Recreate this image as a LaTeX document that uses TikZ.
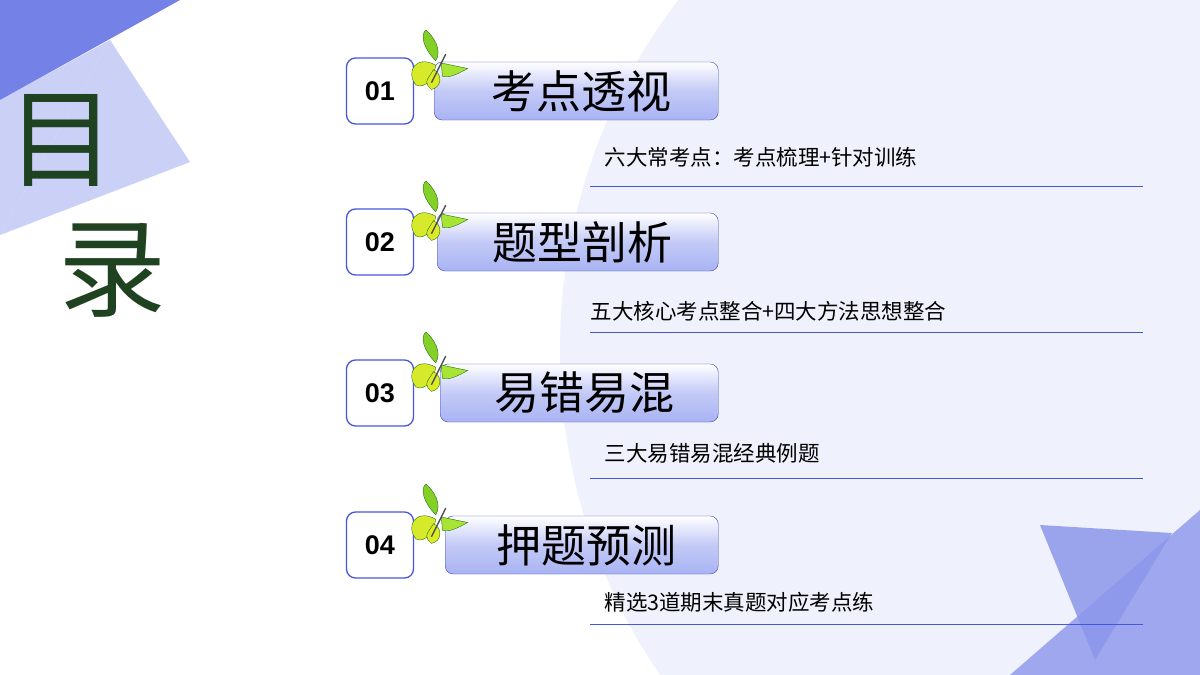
\documentclass[tikz,border=0pt]{standalone}
\usepackage{fontspec}
\setmainfont{Liberation Sans}
\newfontfamily\cjk{Noto Sans CJK SC}
\usetikzlibrary{positioning}
\definecolor{bgpale}{HTML}{EFF2FC}
\definecolor{lineblue}{HTML}{4657DE}
\definecolor{barblue}{HTML}{A9B3F3}
\definecolor{darkgreen}{HTML}{1F4220}
\definecolor{wing}{HTML}{C4DF3C}
\tikzset{
  numbox/.style={draw=lineblue, line width=1.3pt, fill=white, rounded corners=9pt, minimum width=67pt, minimum height=66pt, font=\bfseries\fontsize{27}{27}\selectfont},
  titlebar/.style={draw=lineblue!80!black, top color=white, bottom color=barblue, middle color=barblue!70, rounded corners=8pt, minimum height=58pt},
  titletext/.style={font=\cjk\fontsize{45}{45}\selectfont},
  subtext/.style={anchor=west, font=\cjk\fontsize{21.5}{21.5}\selectfont},
  wingpart/.style={draw=green!35!black, line width=0.3pt},
  butterfly/.pic={
    \fill[wingpart, fill=wing!75!green!90!black] (-2,-2) .. controls (-14,-14) and (-16,-26) .. (-11,-30) .. controls (-4,-24) and (4,-12) .. cycle;
    \fill[wingpart, fill=wing!70!yellow] (-2,2) .. controls (-20,-8) and (-30,8) .. (-20,20) .. controls (-12,24) and (-4,14) .. cycle;
    \fill[wingpart, fill=wing!85!green] (3,0) -- (27,5) .. controls (18,10) and (10,14) .. (4,12) -- cycle;
    \fill[wingpart, fill=wing!60!yellow] (-4,6) .. controls (4,10) and (4,22) .. (-6,24) .. controls (-12,18) .. cycle;
    \draw[line width=1.3pt, black!70] (-6,18) -- (7,-8);
  }
}
\begin{document}
\begin{tikzpicture}[x=1pt,y=-1pt]
\useasboundingbox (0,0) rectangle (1200,675);
% background
\fill[white] (0,0) rectangle (1200,675);
\begin{scope}
  \clip (0,0) rectangle (1200,675);
  \fill[bgpale] (1100,350) ellipse (540 and 560);
  \fill[lineblue!28] (0,235) -- (110,40) -- (190,162) -- cycle;
  \fill[lineblue!28] (0,100) -- (110,40) -- (0,235) -- cycle;
  \fill[lineblue!75] (0,0) -- (180,0) -- (0,100) -- cycle;
  \fill[lineblue!52] (1010,675) -- (1200,510) -- (1200,675) -- cycle;
  \fill[lineblue!62, opacity=0.85] (1040,525) -- (1172,533) -- (1095,660) -- cycle;
\end{scope}
% heading
\node[font=\cjk\fontsize{108}{108}\selectfont, text=darkgreen] (mu) at (62,140) {目};
\node[font=\cjk\fontsize{108}{108}\selectfont, text=darkgreen] (lu) at (112,270) {录};
% items
\foreach \i/\y/\bx/\title/\sx/\sy/\ly/\sub in {
  01/91/434/考点透视/601/157/186/六大常考点：考点梳理+针对训练,
  02/242/437/题型剖析/587/311/332/五大核心考点整合+四大方法思想整合,
  03/393/440/易错易混/601/453/478/三大易错易混经典例题,
  04/545/445/押题预测/601/602/624/精选3道期末真题对应考点练}{
  \node[numbox] (num\i) at (380,\y) {\i};
  \coordinate (bl\i) at (\bx,\y);
  \node[titlebar, minimum width={718-\bx}, anchor=west] (bar\i) at (bl\i) {};
  \node[titletext] (tt\i) at ({(\bx+718)/2+5},\y) {\title};
  \pic[scale=1.1] at (438,{\y-28}) {butterfly};
  \node[subtext] (sub\i) at (\sx,\sy) {\sub};
  \coordinate (la\i) at (590,\ly);
  \coordinate (lb\i) at (1143,\ly);
  \draw[lineblue] (la\i) -- (lb\i);
}
\end{tikzpicture}
\end{document}
